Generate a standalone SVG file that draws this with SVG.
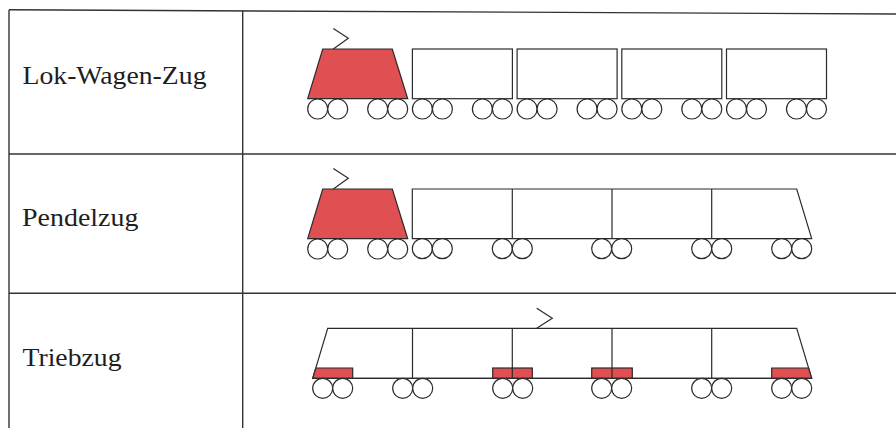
<svg xmlns="http://www.w3.org/2000/svg" width="896" height="428" viewBox="0 0 896 428">
  <defs>
    <style>
      .grid { stroke: #333; stroke-width: 1.4; fill: none; }
      .ln { stroke: #2b2b2b; stroke-width: 1.2; fill: none; stroke-linejoin: miter; }
      .body { stroke: #2b2b2b; stroke-width: 1.2; fill: #ffffff; }
      .red { stroke: #2b2b2b; stroke-width: 1.2; fill: #e04f51; }
      .label { font-family: "Liberation Serif", "Times New Roman", serif; font-size: 26px; fill: #1e1e1e; }
    </style>
    <!-- one wheel pair, centres 20 apart, radius 10 -->
    <g id="axle">
      <circle cx="0" cy="0" r="10" class="body"/>
      <circle cx="20" cy="0" r="10" class="body"/>
    </g>
    <!-- electric locomotive: trapezoid body, pantograph, two bogies -->
    <g id="loco">
      <polygon points="15,0 84.6,0 100,49.7 0,49.7" class="red"/>
      <polyline points="25.6,-20.5 40.6,-10.7 25.6,0" class="ln"/>
      <use href="#axle" x="10" y="60"/>
      <use href="#axle" x="70" y="60"/>
    </g>
    <!-- single coach with two bogies -->
    <g id="coach">
      <rect x="0" y="0" width="100" height="49.7" class="body"/>
      <use href="#axle" x="10" y="60"/>
      <use href="#axle" x="70" y="60"/>
    </g>
  </defs>

  <rect x="0" y="0" width="896" height="428" fill="#ffffff"/>

  <!-- table rules -->
  <g id="table">
    <line x1="9" y1="9.8" x2="896" y2="14" class="grid"/>
    <line x1="9" y1="9.8" x2="9" y2="428" class="grid"/>
    <line x1="242.7" y1="10.5" x2="242.7" y2="428" class="grid"/>
    <line x1="9" y1="154" x2="896" y2="154" class="grid"/>
    <line x1="9" y1="293.3" x2="896" y2="293.3" class="grid"/>
  </g>

  <!-- row 1: locomotive hauling four coaches -->
  <g id="row-lok-wagen-zug">
    <text x="22.5" y="84.3" class="label" textLength="184" lengthAdjust="spacingAndGlyphs">Lok-Wagen-Zug</text>
    <use href="#loco" x="307.7" y="49"/>
    <use href="#coach" x="412.4" y="49"/>
    <use href="#coach" x="517.1" y="49"/>
    <use href="#coach" x="621.8" y="49"/>
    <use href="#coach" x="726.5" y="49"/>
  </g>

  <!-- row 2: push-pull train with control car -->
  <g id="row-pendelzug">
    <text x="22" y="226" class="label" textLength="116.5" lengthAdjust="spacingAndGlyphs">Pendelzug</text>
    <use href="#loco" x="307.7" y="189"/>
    <polygon points="412.3,189 796.7,189 811.7,238.7 412.3,238.7" class="body"/>
    <line x1="512.3" y1="189" x2="512.3" y2="238.7" class="ln"/>
    <line x1="612" y1="189" x2="612" y2="238.7" class="ln"/>
    <line x1="711.7" y1="189" x2="711.7" y2="238.7" class="ln"/>
    <use href="#axle" x="422.3" y="248.7"/>
    <use href="#axle" x="502.3" y="248.7"/>
    <use href="#axle" x="601.7" y="248.7"/>
    <use href="#axle" x="701.7" y="248.7"/>
    <use href="#axle" x="781.7" y="248.7"/>
  </g>

  <!-- row 3: multiple unit with distributed traction -->
  <g id="row-triebzug">
    <text x="22.5" y="366" class="label" textLength="99" lengthAdjust="spacingAndGlyphs">Triebzug</text>
    <polygon points="327.7,328.3 796.7,328.3 811.7,378.3 312.7,378.3" class="body"/>
    <polygon points="315.8,368 352.7,368 352.7,378.3 312.7,378.3" class="red"/>
    <rect x="492.7" y="368" width="39.6" height="10.3" class="red"/>
    <rect x="591.7" y="368" width="40.6" height="10.3" class="red"/>
    <polygon points="771.7,368 808.6,368 811.7,378.3 771.7,378.3" class="red"/>
    <line x1="312.7" y1="378.3" x2="811.7" y2="378.3" class="ln"/>
    <line x1="412.5" y1="328.3" x2="412.5" y2="378.3" class="ln"/>
    <line x1="512.3" y1="328.3" x2="512.3" y2="378.3" class="ln"/>
    <line x1="612" y1="328.3" x2="612" y2="378.3" class="ln"/>
    <line x1="711.7" y1="328.3" x2="711.7" y2="378.3" class="ln"/>
    <polyline points="536.7,308.3 552.3,318.3 536.7,328.3" class="ln"/>
    <use href="#axle" x="322.7" y="388.3"/>
    <use href="#axle" x="402.7" y="388.3"/>
    <use href="#axle" x="502.7" y="388.3"/>
    <use href="#axle" x="601.7" y="388.3"/>
    <use href="#axle" x="701.7" y="388.3"/>
    <use href="#axle" x="781.7" y="388.3"/>
  </g>
</svg>
